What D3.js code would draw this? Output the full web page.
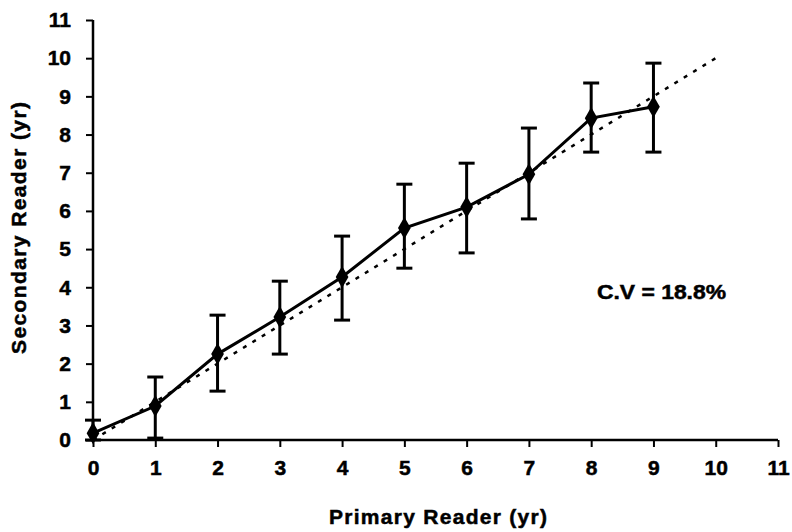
<!DOCTYPE html>
<html>
<head>
<meta charset="utf-8">
<script src="https://cdn.jsdelivr.net/npm/d3@7"></script>
<style>
  html, body { margin: 0; padding: 0; background: #fff; }
  text { font-family: "Liberation Sans", Arial, sans-serif; font-weight: bold; fill: #000; stroke: #000; stroke-width: 0.5px; }
</style>
</head>
<body>
<svg id="chart" width="792" height="532"></svg>
<script>
// Data
const primaryAge = [0, 1, 2, 3, 4, 5, 6, 7, 8, 9];
const secondaryMean = [0.18, 0.89, 2.25, 3.22, 4.27, 5.55, 6.10, 6.96, 8.43, 8.73];
const secondaryUpper = [0.52, 1.65, 3.27, 4.16, 5.34, 6.70, 7.25, 8.17, 9.35, 9.87];
const secondaryLower = [0.0, 0.05, 1.28, 2.25, 3.14, 4.50, 4.90, 5.79, 7.54, 7.54];
const identityLine = [0, 10];
const xTicks = [0, 1, 2, 3, 4, 5, 6, 7, 8, 9, 10, 11];
const yTicks = [0, 1, 2, 3, 4, 5, 6, 7, 8, 9, 10, 11];
const cvLabel = "C.V = 18.8%";
const xTitle = "Primary Reader (yr)";
const yTitle = "Secondary Reader (yr)";

const svg = d3.select("#chart");
const x = d3.scaleLinear().domain([0, 11]).range([93, 778]);
const y = d3.scaleLinear().domain([0, 11]).range([440, 20]);

// Axes
const xAxis = svg.append("g").attr("transform", `translate(0,${y(0)})`)
  .call(d3.axisBottom(x).tickValues(xTicks).tickSize(7).tickPadding(13).tickFormat(d3.format("d")));
const yAxis = svg.append("g").attr("transform", `translate(${x(0)},0)`)
  .call(d3.axisLeft(y).tickValues(yTicks).tickSize(7).tickPadding(15).tickFormat(d3.format("d")));
[xAxis, yAxis].forEach(g => {
  g.select(".domain").attr("stroke", "#000").attr("stroke-width", 2.5);
  g.selectAll(".tick line").attr("stroke", "#000").attr("stroke-width", 2);
  g.selectAll(".tick text").style("font-size", "21px").style("font-family", '"Liberation Sans", Arial, sans-serif').style("font-weight", "bold").attr("fill", "#000");
});
xAxis.select(".domain").attr("d", `M${x(0)},0H${x(11)}`);
yAxis.select(".domain").attr("d", `M0,${y(0)}V${y(11)}`);

// Identity dotted line
svg.append("line")
  .attr("x1", x(identityLine[0])).attr("y1", y(identityLine[0]))
  .attr("x2", x(identityLine[1])).attr("y2", y(identityLine[1]))
  .attr("stroke", "#000").attr("stroke-width", 2.5)
  .attr("stroke-dasharray", "4,7");

const pts = primaryAge.map((v, i) => ({x: v, y: secondaryMean[i], hi: secondaryUpper[i], lo: secondaryLower[i]}));

// Error bars
const eb = svg.append("g");
pts.forEach(p => {
  eb.append("line").attr("x1", x(p.x)).attr("x2", x(p.x)).attr("y1", y(p.lo)).attr("y2", y(p.hi))
    .attr("stroke", "#000").attr("stroke-width", 3);
  [p.lo, p.hi].forEach(v => {
    eb.append("line").attr("x1", x(p.x) - 8).attr("x2", x(p.x) + 8).attr("y1", y(v)).attr("y2", y(v))
      .attr("stroke", "#000").attr("stroke-width", 3);
  });
});

// Mean line
svg.append("path").datum(pts)
  .attr("d", d3.line().x(d => x(d.x)).y(d => y(d.y)))
  .attr("fill", "none").attr("stroke", "#000").attr("stroke-width", 3);

// Diamond markers
svg.append("g").selectAll("path").data(pts).join("path")
  .attr("transform", d => `translate(${x(d.x)},${y(d.y)})`)
  .attr("d", d3.symbol().type(d3.symbolDiamond).size(140))
  .attr("fill", "#000");

// Annotation
svg.append("text").attr("x", 597).attr("y", 299).style("font-size", "20px")
  .attr("textLength", 129).attr("lengthAdjust", "spacingAndGlyphs").text(cvLabel);

// Titles
svg.append("text").attr("x", 438).attr("y", 524).attr("text-anchor", "middle")
  .style("font-size", "21px").attr("textLength", 218).attr("lengthAdjust", "spacing").text(xTitle);
svg.append("text").attr("transform", "translate(26,228) rotate(-90)").attr("text-anchor", "middle")
  .style("font-size", "21px").attr("textLength", 252).attr("lengthAdjust", "spacing").text(yTitle);
</script>
</body>
</html>
